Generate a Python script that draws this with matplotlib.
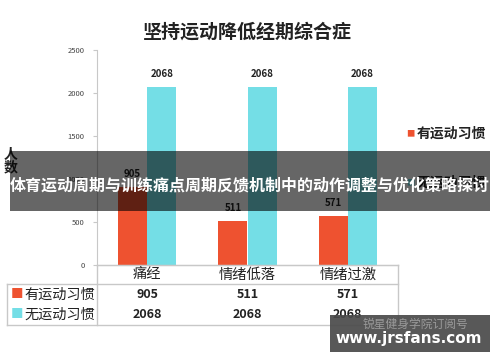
import numpy as np
import matplotlib
matplotlib.use("Agg")
import matplotlib.pyplot as plt
from matplotlib.patches import Rectangle
from matplotlib.lines import Line2D
import matplotlib.transforms as mtransforms

plt.rcParams['font.family'] = ['Noto Sans CJK SC', 'DejaVu Sans']

# data
categorias = ['痛经', '情绪低落', '情绪过激']
series_nomes = ['有运动习惯', '无运动习惯']
com_exercicio = [905, 511, 571]
sem_exercicio = [2068, 2068, 2068]
y_ticks = [0, 500, 1000, 1500, 2000, 2500]

titulo = '坚持运动降低经期综合症'
faixa = '体育运动周期与训练痛点周期反馈机制中的动作调整与优化策略探讨'

cor_laranja = '#EE5230'
cor_ciano = '#74DEE6'
cor_borda = '#C8C8C8'

fig = plt.figure(figsize=(5, 3.62), dpi=100)
fig.patch.set_facecolor('white')
ax = fig.add_axes([0.194, 0.268, 0.602, 0.594])

x = np.arange(len(categorias))
w = 0.29
b1 = ax.bar(x - w / 2, com_exercicio, w, color=cor_laranja)
b2 = ax.bar(x + w / 2, sem_exercicio, w, color=cor_ciano)

for barras, vals in [(b1, com_exercicio), (b2, sem_exercicio)]:
    for r, v in zip(barras, vals):
        ax.text(r.get_x() + r.get_width() / 2, v + 90, str(v), ha='center', va='bottom',
                fontsize=7, fontweight='bold', color='#222222')

ax.set_xlim(-0.5, 2.5)
ax.set_ylim(0, 2500)
ax.set_yticks(y_ticks)
ax.set_yticklabels([str(t) for t in y_ticks], fontsize=5.5, color='#444444')
ax.tick_params(axis='y', length=3, color=cor_borda, pad=6)
ax.set_xticks([])
for s in ['top', 'right']:
    ax.spines[s].set_visible(False)
ax.spines['left'].set_color(cor_borda)
ax.spines['bottom'].set_color(cor_borda)

# data table below the axes
h = 1 / 215
tr = mtransforms.blended_transform_factory(ax.transData, ax.transAxes)
linhas = [
    ([0, 1], [0, 0]),
    ([-0.299, 1], [-19 * h, -19 * h]),
    ([-0.299, 1], [-60 * h, -60 * h]),
    ([-0.299, -0.299], [-19 * h, -60 * h]),
    ([0, 0], [0, -60 * h]),
    ([1, 1], [0, -60 * h]),
]
for xs, ys in linhas:
    ax.add_line(Line2D(xs, ys, transform=ax.transAxes, color=cor_borda, lw=1, clip_on=False))

for i, c in enumerate(categorias):
    ax.text(i, -9.5 * h, c, transform=tr, ha='center', va='center', fontsize=10.3, color='#222222')
for j, (nome, vals, cor) in enumerate([(series_nomes[0], com_exercicio, cor_laranja),
                                        (series_nomes[1], sem_exercicio, cor_ciano)]):
    yy = (-29.5 - 20.5 * j) * h
    ax.text(-0.285, yy, '■', transform=ax.transAxes, ha='left', va='center', fontsize=9, color=cor)
    ax.text(-0.005, yy, nome, transform=ax.transAxes, ha='right', va='center', fontsize=10.2, color='#222222')
    for i, v in enumerate(vals):
        ax.text(i, yy, str(v), transform=tr, ha='center', va='center', fontsize=9,
                fontweight='bold', color='#222222')

# legenda (parcialmente coberta)
fig.text(0.812, 0.630, '■', fontsize=6, color=cor_laranja, va='center')
fig.text(0.834, 0.630, series_nomes[0], fontsize=10, fontweight='black', va='center', color='#222222')
fig.text(0.812, 0.495, '■', fontsize=6, color=cor_ciano, va='center')
fig.text(0.834, 0.495, series_nomes[1], fontsize=10, fontweight='black', va='center', color='#222222')

# rotulo y
fig.text(0.022, 0.555, '人\n数', fontsize=10, fontweight='black', ha='center', va='center',
         linespacing=0.9, color='#222222')

fig.text(0.494, 0.912, titulo, fontsize=13.7, fontweight='black', ha='center', va='center', color='#222222')

# faixa escura
fig.patches.append(Rectangle((0.02, 1 - 211 / 362), 0.96, 60 / 362, transform=fig.transFigure,
                             facecolor='#000000', alpha=0.6, zorder=10))
fig.text(0.5, 1 - 185 / 362, faixa, fontsize=11.5, fontweight='bold', color='white',
         ha='center', va='center', zorder=11)

# marca d'agua
fig.patches.append(Rectangle((0.66, 1 - 352 / 362), 0.32, 37 / 362, transform=fig.transFigure,
                             facecolor='#4a4a4a', alpha=0.92, zorder=10))
fig.text(0.83, 1 - 324 / 362, '锐星健身学院订阅号', fontsize=8.5, color='#9a9a9a',
         ha='center', va='center', zorder=11)
fig.text(0.818, 1 - 339 / 362, 'www.jrsfans.com', fontsize=11, fontweight='bold', color='white',
         ha='center', va='center', zorder=11, family=['DejaVu Sans'])

fig.savefig('out.png', dpi=100)
